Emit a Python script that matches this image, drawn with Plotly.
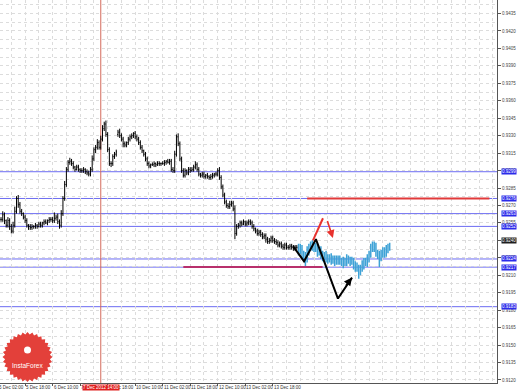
import math
import plotly.graph_objects as go

# ---------------- data (prices in pips, 1 pip = 0.0001) ----------------
close_pips = [
    9258, 9262, 9257, 9253, 9257, 9252, 9248, 9253, 9265, 9276,
    9271, 9265, 9263, 9260, 9257, 9253, 9252, 9251, 9252, 9252,
    9253, 9252, 9254, 9253, 9255, 9256, 9255, 9257, 9258, 9258,
    9257, 9259, 9260, 9256, 9253, 9263, 9276, 9288, 9301, 9307,
    9308, 9306, 9303, 9301, 9303, 9301, 9300, 9300, 9301, 9299,
    9298, 9297, 9301, 9310, 9318, 9320, 9324, 9320, 9327, 9336,
    9340, 9331, 9318, 9306, 9306, 9312, 9314, 9316, 9333, 9330,
    9327, 9323, 9322, 9324, 9327, 9329, 9330, 9332, 9329, 9327,
    9324, 9320, 9317, 9314, 9310, 9306, 9304, 9305, 9305, 9306,
    9305, 9306, 9306, 9306, 9306, 9307, 9308, 9307, 9308, 9301,
    9300, 9314, 9329, 9323, 9310, 9300, 9296, 9300, 9298, 9301,
    9300, 9301, 9303, 9305, 9301, 9297, 9296, 9297, 9295, 9296,
    9295, 9294, 9295, 9296, 9297, 9297, 9300, 9294, 9286, 9279,
    9273, 9270, 9269, 9271, 9272, 9267, 9246, 9252, 9253, 9255,
    9254, 9256, 9254, 9255, 9256, 9255, 9252, 9250, 9248, 9246,
    9247, 9245, 9243, 9244, 9241, 9239, 9240, 9242, 9240, 9239,
    9238, 9236, 9237, 9235, 9234, 9236, 9234, 9234, 9235, 9234,
    9233, 9234, 9234,
    # projected pattern (blue)
    9231, 9233, 9228, 9226, 9224, 9231, 9234, 9236, 9234, 9235,
    9233, 9230, 9231, 9228, 9226, 9227, 9225, 9224, 9225, 9223,
    9224, 9222, 9223, 9224, 9222, 9222, 9221, 9222, 9224, 9223,
    9222, 9222, 9219, 9217, 9216, 9214, 9216, 9219, 9222, 9221,
    9224, 9228, 9233, 9236, 9234, 9229, 9228, 9226, 9228, 9231,
    9229, 9232, 9234, 9235,
]
wick_up_pips = [
    2, 3, 2, 1, 3, 2, 2, 3, 4, 2, 3, 2, 2, 1, 2, 2, 1, 2, 2, 1,
    2, 1, 2, 2, 1, 2, 2, 1, 2, 2, 2, 5, 2, 3, 2, 3, 2, 3, 2, 2,
    3, 2, 2, 1, 2, 2, 1, 2, 2, 1, 2, 2, 2, 3, 2, 2, 3, 2, 3, 3,
    2, 3, 2, 2, 2, 2, 2, 2, 2, 3, 2, 2, 2, 1, 2, 2, 2, 1, 2, 2,
    2, 2, 2, 1, 2, 2, 2, 1, 2, 2, 1, 2, 2, 1, 2, 2, 1, 2, 2, 2,
    2, 3, 2, 3, 2, 2, 2, 2, 1, 2, 2, 2, 2, 3, 2, 2, 1, 2, 2, 1,
    2, 1, 2, 2, 1, 2, 2, 3, 2, 2, 2, 2, 2, 3, 2, 2, 3, 2, 2, 2,
    2, 2, 1, 2, 2, 2, 2, 2, 1, 2, 2, 2, 2, 2, 2, 2, 2, 2, 2, 2,
    2, 2, 2, 2, 2, 2, 2, 2, 2, 2, 2, 2, 2, 3, 4, 3, 3, 4, 4, 3,
    3, 4, 3, 3, 4, 3, 4, 3, 3, 4, 3, 3, 4, 3, 3, 4, 3, 3, 3, 4,
    3, 4, 3, 3, 4, 3, 3, 4, 3, 3, 4, 3, 3, 4, 3, 4, 3, 3, 4, 3,
    3, 4, 3, 3, 4, 3, 3,
]
wick_dn_pips = [
    2, 2, 3, 2, 2, 3, 2, 2, 2, 2, 3, 2, 2, 2, 2, 2, 3, 2, 2, 2,
    2, 2, 1, 2, 2, 2, 1, 2, 2, 2, 2, 2, 2, 2, 3, 2, 2, 2, 2, 2,
    2, 2, 2, 2, 1, 2, 2, 2, 2, 2, 2, 2, 2, 2, 2, 3, 2, 2, 2, 2,
    2, 2, 2, 2, 3, 2, 2, 2, 2, 2, 2, 3, 2, 2, 2, 2, 2, 2, 2, 2,
    2, 2, 2, 2, 2, 2, 2, 2, 1, 2, 2, 1, 2, 2, 1, 2, 2, 1, 2, 2,
    2, 2, 2, 2, 2, 2, 2, 2, 2, 2, 2, 1, 2, 2, 2, 2, 2, 2, 2, 2,
    2, 2, 2, 2, 2, 2, 2, 2, 2, 2, 2, 2, 2, 2, 2, 2, 5, 2, 2, 2,
    2, 1, 2, 2, 2, 2, 2, 2, 2, 2, 2, 2, 2, 2, 3, 2, 2, 2, 2, 2,
    2, 2, 2, 2, 2, 2, 2, 2, 2, 2, 2, 2, 2, 4, 3, 4, 4, 6, 3, 4,
    3, 3, 4, 3, 4, 3, 4, 4, 3, 4, 4, 3, 4, 3, 4, 3, 4, 3, 4, 5,
    3, 4, 3, 4, 3, 4, 4, 3, 7, 4, 3, 4, 3, 4, 3, 3, 3, 4, 3, 4,
    9, 4, 3, 4, 3, 3, 3,
]
n_history = 173                 # black bars; the rest is the blue projection
gap_open_pips = {68: 9331}      # Monday open after weekend gap

tick_idx = [-2, 14, 30, 46, 62, 78, 94, 110, 126, 142, 158]
tick_text = ["5 Dec 02:00", "5 Dec 18:00", "6 Dec 10:00", "7 Dec 02:00",
             "7 Dec 18:00", "10 Dec 10:00", "11 Dec 02:00", "11 Dec 18:00",
             "12 Dec 10:00", "13 Dec 02:00", "13 Dec 18:00"]

event_idx = 58
event_text = "7 Dec 2012 14:00"

levels = [0.9299, 0.9276, 0.9263, 0.9252, 0.9224, 0.9217, 0.9183]
current_price = 0.9240
red_level = (0.9276, 178, 284)
purple_level = (0.9217, 106, 187)

zigzag_x = [169.8, 176.2, 183.1, 195.9, 204.1]
zigzag_y = [0.9235, 0.9222, 0.9241, 0.9190, 0.9208]
red_stroke_x = [181.4, 187.2]
red_stroke_y = [0.9240, 0.9259]
red_arrow_x = [189.5, 193.0]
red_arrow_y = [0.9258, 0.9242]

y_range = [0.91174, 0.94466]
x_range = [-0.6, 288.4]

# ---------------- build OHLC ----------------
N = len(close_pips)
assert len(wick_up_pips) == N and len(wick_dn_pips) == N
opens, highs, lows, closes = [], [], [], []
for i, c in enumerate(close_pips):
    o = gap_open_pips.get(i, close_pips[i - 1] if i > 0 else c)
    opens.append(o / 1e4)
    closes.append(c / 1e4)
    highs.append((max(o, c) + wick_up_pips[i]) / 1e4)
    lows.append((min(o, c) - wick_dn_pips[i]) / 1e4)
idx = list(range(N))

fig = go.Figure()
H = n_history
fig.add_trace(go.Ohlc(
    x=idx[:H], open=opens[:H], high=highs[:H], low=lows[:H], close=closes[:H],
    increasing=dict(line=dict(color="#000000", width=1)),
    decreasing=dict(line=dict(color="#000000", width=1)),
    tickwidth=0.4, showlegend=False, hoverinfo="skip"))
fig.add_trace(go.Ohlc(
    x=idx[H:], open=opens[H:], high=highs[H:], low=lows[H:], close=closes[H:],
    increasing=dict(line=dict(color="#3ea2d6", width=1.5)),
    decreasing=dict(line=dict(color="#3ea2d6", width=1.5)),
    tickwidth=0.4, showlegend=False, hoverinfo="skip"))

shapes = []
for lv in levels:
    shapes.append(dict(type="line", xref="paper", x0=0, x1=1, yref="y", y0=lv, y1=lv,
                       line=dict(color="#6c6cf2", width=1), layer="below"))
shapes.append(dict(type="line", xref="x", x0=red_level[1], x1=red_level[2], yref="y",
                   y0=red_level[0], y1=red_level[0], line=dict(color="#e23a3a", width=2)))
shapes.append(dict(type="line", xref="x", x0=purple_level[1], x1=purple_level[2], yref="y",
                   y0=purple_level[0], y1=purple_level[0], line=dict(color="#b8306c", width=2)))
shapes.append(dict(type="line", xref="x", x0=event_idx, x1=event_idx, yref="paper", y0=0, y1=1,
                   line=dict(color="#d46a5a", width=1), layer="below"))

# InstaForex seal (decoration, in paper coords computed from pixel geometry)
PW, PH = 497.0, 383.0
cx, cy, R1, R2, nt = 27.5, 357.0, 25.0, 22.5, 32
pts = []
for k in range(2 * nt):
    a = math.pi * k / nt
    r = R1 if k % 2 == 0 else R2
    pts.append(((cx + r * math.cos(a)) / PW, 1 - (cy + r * math.sin(a)) / PH))
path = "M " + " L ".join(f"{px:.5f},{py:.5f}" for px, py in pts) + " Z"
shapes.append(dict(type="path", xref="paper", yref="paper", path=path,
                   fillcolor="#e3403a", line=dict(width=0)))
shapes.append(dict(type="circle", xref="paper", yref="paper",
                   x0=(cx - 3.5) / PW, x1=(cx + 3.5) / PW,
                   y0=1 - (350 + 3.5) / PH, y1=1 - (350 - 3.5) / PH,
                   fillcolor="#ffffff", line=dict(width=0)))

fig.add_trace(go.Scatter(x=zigzag_x, y=zigzag_y, mode="lines",
                         line=dict(color="#000000", width=2), showlegend=False, hoverinfo="skip"))
fig.add_trace(go.Scatter(x=red_stroke_x, y=red_stroke_y, mode="lines",
                         line=dict(color="#e8322e", width=2), showlegend=False, hoverinfo="skip"))

annotations = []
annotations.append(dict(x=zigzag_x[-1], y=zigzag_y[-1], ax=zigzag_x[-2] + 4, ay=zigzag_y[-2] + 0.0010,
                        xref="x", yref="y", axref="x", ayref="y", showarrow=True,
                        arrowhead=2, arrowsize=1, arrowwidth=1.6, arrowcolor="#000000", text=""))
annotations.append(dict(x=red_arrow_x[1], y=red_arrow_y[1], ax=red_arrow_x[0], ay=red_arrow_y[0],
                        xref="x", yref="y", axref="x", ayref="y", showarrow=True,
                        arrowhead=2, arrowsize=1, arrowwidth=1.6, arrowcolor="#e8322e", text=""))


def to_paper(v):
    return (v - x_range[0]) / (x_range[1] - x_range[0])


FONT = "Liberation Sans Narrow, Liberation Sans, Arial"
for ti, tt in zip(tick_idx, tick_text):
    annotations.append(dict(x=to_paper(ti), y=0, xref="paper", yref="paper", xanchor="left",
                            yanchor="top", yshift=-1, text=tt, showarrow=False, borderpad=0,
                            font=dict(family=FONT, size=4.5, color="#333333")))
annotations.append(dict(x=event_idx, y=0, xref="x", yref="paper", xanchor="center", yanchor="top",
                        yshift=-1, text=event_text, showarrow=False, bgcolor="#e0201e",
                        borderpad=0, font=dict(family=FONT, size=4.5, color="#ffffff")))
for lv in levels:
    annotations.append(dict(x=1, y=lv, xref="paper", yref="y", xanchor="left", yanchor="middle",
                            xshift=4, text=f"{lv:.4f}", showarrow=False, bgcolor="#2b2bea",
                            borderpad=0, font=dict(family=FONT, size=4.5, color="#ffffff")))
annotations.append(dict(x=1, y=current_price, xref="paper", yref="y", xanchor="left", yanchor="middle",
                        xshift=4, text=f"{current_price:.4f}", showarrow=False, bgcolor="#1e1e1e",
                        borderpad=0, font=dict(family=FONT, size=4.5, color="#ffffff")))
annotations.append(dict(x=cx / PW, y=1 - 365 / PH, xref="paper", yref="paper",
                        xanchor="center", yanchor="middle", text="InstaForex",
                        showarrow=False, font=dict(family="Liberation Sans", size=6.5, color="#ffffff")))

grid = dict(gridcolor="#dcdcdc", griddash="dot", gridwidth=0.7)
fig.update_layout(
    width=518, height=391, margin=dict(l=0, r=21, t=0, b=8),
    paper_bgcolor="#ffffff", plot_bgcolor="#ffffff",
    shapes=shapes, annotations=annotations,
    font=dict(family=FONT, size=4.5, color="#333333"),
    xaxis=dict(range=x_range, rangeslider=dict(visible=False), tickvals=tick_idx,
               ticktext=[""] * len(tick_idx), ticks="outside", ticklen=2, tickcolor="#555555",
               showgrid=True, **grid, zeroline=False, showline=True, linecolor="#555555",
               minor=dict(tick0=-2, dtick=8, showgrid=True, **grid)),
    yaxis=dict(range=y_range, side="right", tick0=0.9435, dtick=0.0015, tickformat=".4f",
               ticks="outside", ticklen=3, tickcolor="#555555", showgrid=True, **grid,
               zeroline=False, showline=True, linecolor="#555555",
               tickfont=dict(family=FONT, size=4.5, color="#444444"),
               minor=dict(tick0=0.9435, dtick=0.00075, showgrid=True, **grid)),
)
fig.write_html("out.html")
